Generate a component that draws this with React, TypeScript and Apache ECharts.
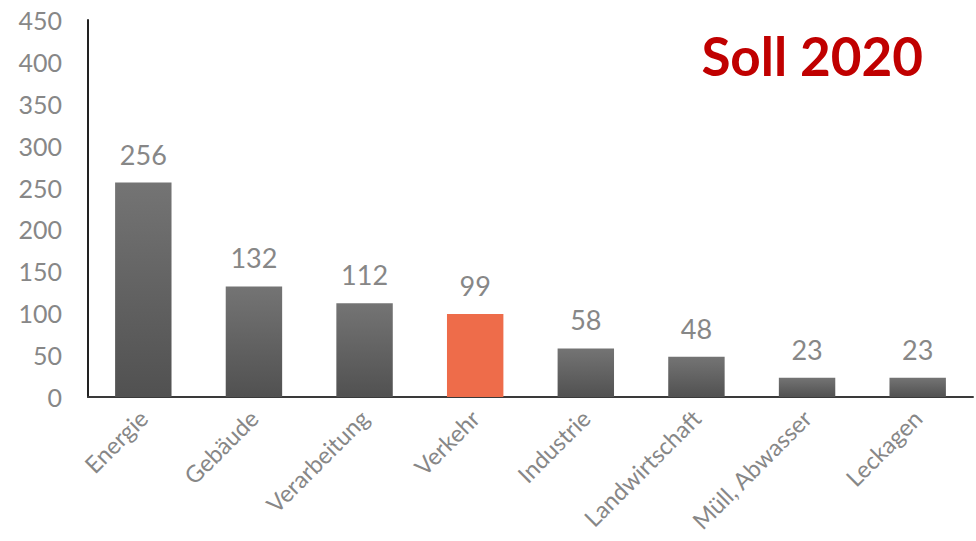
import React, { useEffect, useRef } from "react";
import * as echarts from "echarts";

const categories = ["Energie", "Gebäude", "Verarbeitung", "Verkehr", "Industrie", "Landwirtschaft", "Müll, Abwasser", "Leckagen"];
const values = [256, 132, 112, 99, 58, 48, 23, 23];
const highlightIndex = 3;
const yTicks = { min: 0, max: 450, interval: 50 };
const title = "Soll 2020";

export default function App() {
  const ref = useRef<HTMLDivElement>(null);
  useEffect(() => {
    if (!ref.current) return;
    const chart = echarts.init(ref.current, null, { renderer: "svg" });
    const grayGrad = new echarts.graphic.LinearGradient(0, 0, 0, 1, [
      { offset: 0, color: "#747474" },
      { offset: 1, color: "#515151" },
    ]);
    chart.setOption({
      animation: false,
      textStyle: { fontFamily: "Lato" },
      graphic: [
        {
          type: "text",
          right: 53,
          top: 29,
          style: {
            text: title,
            fill: "#C00000",
            font: "bold 53px Lato",
          },
        },
      ],
      grid: { left: 88, right: 3, top: 20, bottom: 144, containLabel: false },
      xAxis: {
        type: "category",
        data: categories,
        axisLine: { show: true, lineStyle: { color: "#3a3a3a", width: 2 } },
        axisTick: { show: false },
        axisLabel: {
          rotate: 45,
          fontSize: 23.5,
          color: "#878787",
          fontFamily: "Lato",
          margin: 17,
          interval: 0,
        },
      },
      yAxis: {
        type: "value",
        min: yTicks.min,
        max: yTicks.max,
        interval: yTicks.interval,
        axisLine: { show: true, lineStyle: { color: "#222", width: 2 } },
        axisTick: { show: false },
        splitLine: { show: false },
        axisLabel: { fontSize: 25, color: "#878787", fontFamily: "Lato", margin: 26 },
      },
      series: [
        {
          type: "bar",
          barWidth: "51%",
          data: values.map((v, i) => ({
            value: v,
            itemStyle: { color: i === highlightIndex ? "#EE6C4A" : grayGrad },
          })),
          label: {
            show: true,
            position: "top",
            distance: 15,
            fontSize: 27,
            color: "#878787",
            fontFamily: "Lato",
          },
        },
      ],
    });
    return () => chart.dispose();
  }, []);
  return (
    <div
      ref={ref}
      style={{ position: "absolute", left: 0, top: 0, width: 976, height: 541, background: "#fff" }}
    />
  );
}
